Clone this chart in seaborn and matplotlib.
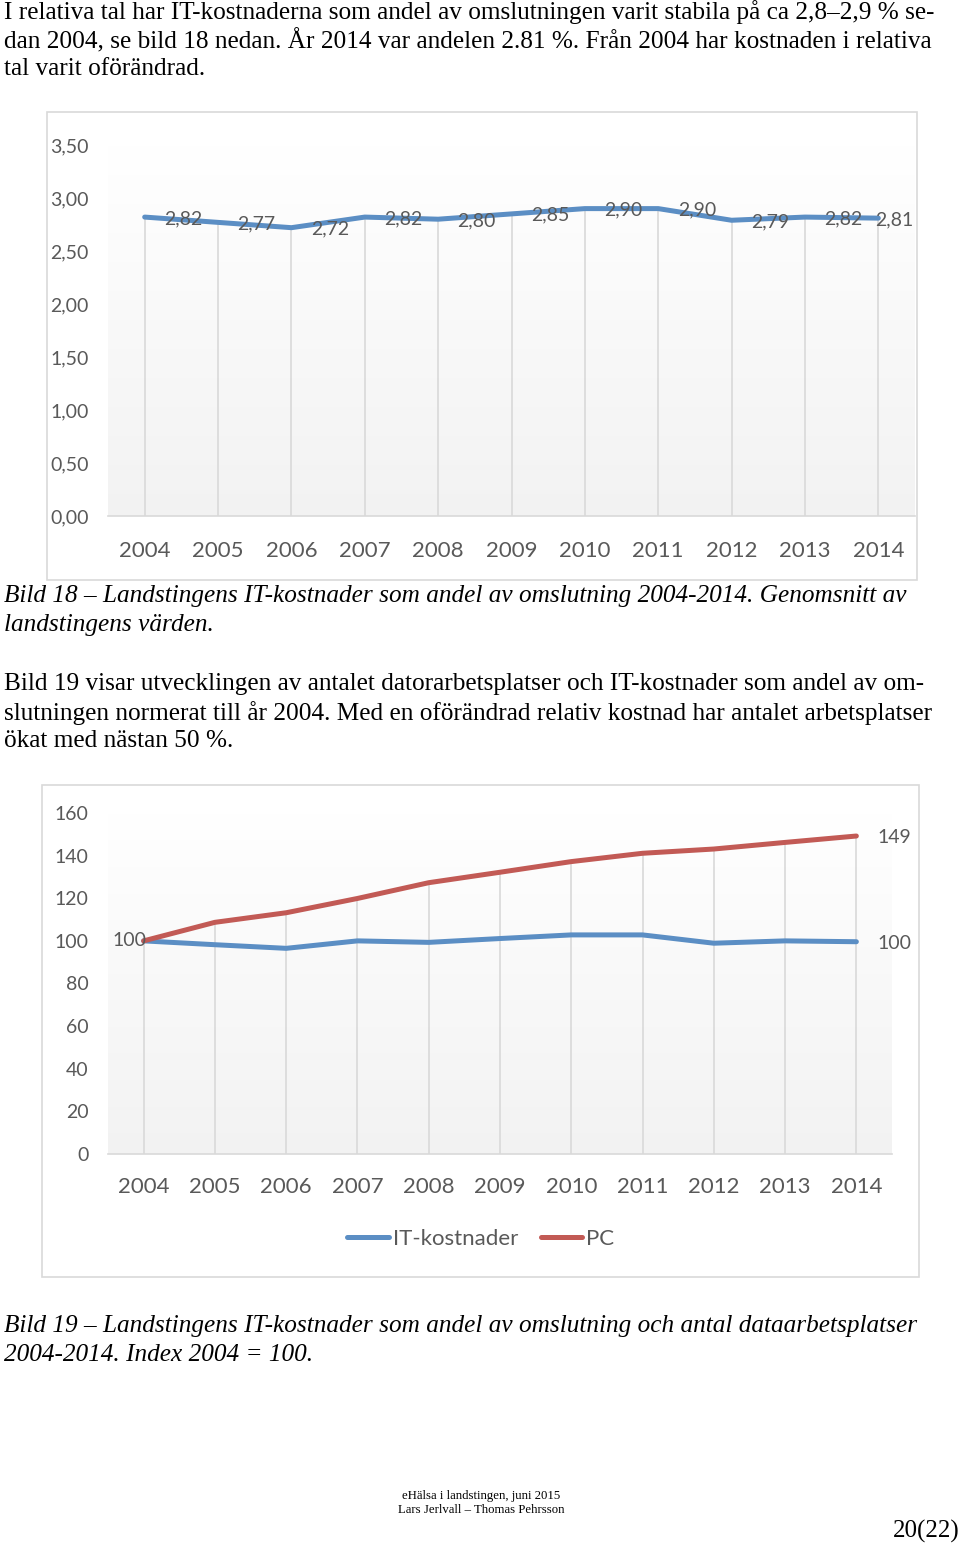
import matplotlib
matplotlib.use("Agg")
import matplotlib.pyplot as plt
import seaborn as sns
import numpy as np
import pandas as pd
from matplotlib.patches import Rectangle
from matplotlib.lines import Line2D

# ---------------- data ----------------
years = ["2004", "2005", "2006", "2007", "2008", "2009", "2010", "2011", "2012", "2013", "2014"]
it_share = [2.82, 2.77, 2.72, 2.82, 2.80, 2.85, 2.90, 2.90, 2.79, 2.82, 2.81]
it_index = [100, 98.2, 96.5, 100, 99.3, 101.1, 102.8, 102.8, 98.9, 100, 99.6]
pc_index = [100, 108.7, 113.2, 119.9, 127.3, 132.2, 137.2, 141.1, 143.1, 146.2, 149.2]
y1_ticks = [0.0, 0.5, 1.0, 1.5, 2.0, 2.5, 3.0, 3.5]
y2_ticks = [0, 20, 40, 60, 80, 100, 120, 140, 160]

W, H = 960, 1547
BLUE = "#5b8ec4"
RED = "#c25a55"
GRAY_TXT = "#595959"
GRID = "#d9d9d9"
LW = 3.6
CHART_FONT = ["Lato", "DejaVu Sans"]
SERIF = ["Liberation Serif", "DejaVu Serif"]

sns.set_theme(style="white")
plt.rcParams["font.family"] = CHART_FONT

fig = plt.figure(figsize=(W / 100, H / 100), dpi=100)
fig.patch.set_facecolor("white")


def fx(x):
    return x / W


def fy(y):
    return 1 - y / H


def ptext(x, y, s, size=18.2, style="normal", ha="left", va="center", family=SERIF, color="black"):
    fig.text(fx(x), fy(y), s, fontsize=size, fontstyle=style, ha=ha, va=va,
             family=family, color=color)


def add_axes_px(left, top, right, bottom):
    return fig.add_axes([fx(left), fy(bottom), (right - left) / W, (bottom - top) / H])


def box(left, top, right, bottom):
    fig.patches.append(Rectangle((fx(left), fy(bottom)), (right - left) / W, (bottom - top) / H,
                                 transform=fig.transFigure, fill=False,
                                 edgecolor="#d9d9d9", linewidth=1.2, zorder=0))


def gradient(ax):
    g = np.linspace(1.0, 0.95, 256).reshape(-1, 1)
    ax.imshow(np.dstack([g, g, g]), extent=[0, 1, 0, 1], transform=ax.transAxes,
              aspect="auto", zorder=0, interpolation="bilinear")


# ---------------- body text ----------------
ptext(4, 12, "I relativa tal har IT-kostnaderna som andel av omslutningen varit stabila på ca 2,8–2,9 % se-")
ptext(4, 41, "dan 2004, se bild 18 nedan. År 2014 var andelen 2.81 %. Från 2004 har kostnaden i relativa")
ptext(4, 69, "tal varit oförändrad.")

ptext(4, 596, "Bild 18 – Landstingens IT-kostnader som andel av omslutning 2004-2014. Genomsnitt av", style="italic")
ptext(4, 625, "landstingens värden.", style="italic")

ptext(4, 684, "Bild 19 visar utvecklingen av antalet datorarbetsplatser och IT-kostnader som andel av om-")
ptext(4, 713, "slutningen normerat till år 2004. Med en oförändrad relativ kostnad har antalet arbetsplatser")
ptext(4, 741, "ökat med nästan 50 %.")

ptext(4, 1326, "Bild 19 – Landstingens IT-kostnader som andel av omslutning och antal dataarbetsplatser", style="italic")
ptext(4, 1355, "2004-2014. Index 2004 = 100.", style="italic")

ptext(481, 1496, "eHälsa i landstingen, juni 2015", size=9.2, ha="center")
ptext(481, 1510, "Lars Jerlvall – Thomas Pehrsson", size=9.2, ha="center")
ptext(960, 1531, "20(22)", size=18, ha="right")

# ---------------- chart 1 ----------------
box(47, 112, 917, 580)
ax1 = add_axes_px(108, 145, 915, 516)
gradient(ax1)
xs = np.arange(len(years))
df1 = pd.DataFrame({"x": xs, "v": it_share})
ax1.vlines(xs, 0, it_share, color=GRID, lw=1.2, zorder=1)
sns.lineplot(data=df1, x="x", y="v", ax=ax1, color=BLUE, lw=LW, zorder=3)
for i, v in enumerate(it_share):
    off = (14, -1) if i < len(years) - 1 else (-2, -1)
    ax1.annotate(f"{v:.2f}".replace(".", ","), (i, v), xytext=off, textcoords="offset points",
                 ha="left", va="center", fontsize=14, color=GRAY_TXT, family=CHART_FONT, zorder=4)
ax1.set_xlim(-0.5, len(years) - 0.5)
ax1.set_ylim(0, 3.5)
ax1.set_yticks(y1_ticks)
ax1.set_yticklabels([f"{t:.2f}".replace(".", ",") for t in y1_ticks])
ax1.set_xticks(xs)
ax1.set_xticklabels(years)
ax1.tick_params(axis="y", labelsize=14, labelcolor=GRAY_TXT, length=0, pad=14)
ax1.tick_params(axis="x", labelsize=16, labelcolor=GRAY_TXT, length=0, pad=18)
ax1.set_xlabel("")
ax1.set_ylabel("")
for s in ["top", "left", "right"]:
    ax1.spines[s].set_visible(False)
ax1.spines["bottom"].set_color(GRID)
ax1.spines["bottom"].set_linewidth(1.2)

# ---------------- chart 2 ----------------
box(42, 785, 919, 1277)
ax2 = add_axes_px(108, 813, 892, 1154)
gradient(ax2)
df2 = pd.DataFrame({
    "x": np.tile(xs, 2),
    "v": it_index + pc_index,
    "serie": ["IT-kostnader"] * len(years) + ["PC"] * len(years),
})
ax2.vlines(xs, 0, np.maximum(it_index, pc_index), color=GRID, lw=1.2, zorder=1)
sns.lineplot(data=df2, x="x", y="v", hue="serie", palette={"IT-kostnader": BLUE, "PC": RED},
             ax=ax2, lw=LW, zorder=3, legend=False)
ax2.annotate(f"{it_index[0]:.0f}", (0, it_index[0]), xytext=(2, 0), textcoords="offset points",
             ha="right", va="center", fontsize=14, color=GRAY_TXT, family=CHART_FONT)
ax2.annotate(f"{pc_index[-1]:.0f}", (len(years) - 1, pc_index[-1]), xytext=(15, -1),
             textcoords="offset points", ha="left", va="center", fontsize=14, color=GRAY_TXT,
             family=CHART_FONT)
ax2.annotate(f"{it_index[-1]:.0f}", (len(years) - 1, it_index[-1]), xytext=(15, -1),
             textcoords="offset points", ha="left", va="center", fontsize=14, color=GRAY_TXT,
             family=CHART_FONT)
ax2.set_xlim(-0.5, len(years) - 0.5)
ax2.set_ylim(0, 160)
ax2.set_yticks(y2_ticks)
ax2.set_xticks(xs)
ax2.set_xticklabels(years)
ax2.tick_params(axis="y", labelsize=14, labelcolor=GRAY_TXT, length=0, pad=14)
ax2.tick_params(axis="x", labelsize=16, labelcolor=GRAY_TXT, length=0, pad=16.5)
ax2.set_xlabel("")
ax2.set_ylabel("")
for s in ["top", "left", "right"]:
    ax2.spines[s].set_visible(False)
ax2.spines["bottom"].set_color(GRID)
ax2.spines["bottom"].set_linewidth(1.2)

handles = [Line2D([0], [0], color=BLUE, lw=LW), Line2D([0], [0], color=RED, lw=LW)]
fig.legend(handles, ["IT-kostnader", "PC"], loc="center", bbox_to_anchor=(fx(481), fy(1239)),
           ncol=2, frameon=False, labelcolor=GRAY_TXT, handlelength=1.85,
           handletextpad=0.18, columnspacing=1.05, prop={"family": CHART_FONT, "size": 16})

fig.savefig("out.png", dpi=100, facecolor="white")
